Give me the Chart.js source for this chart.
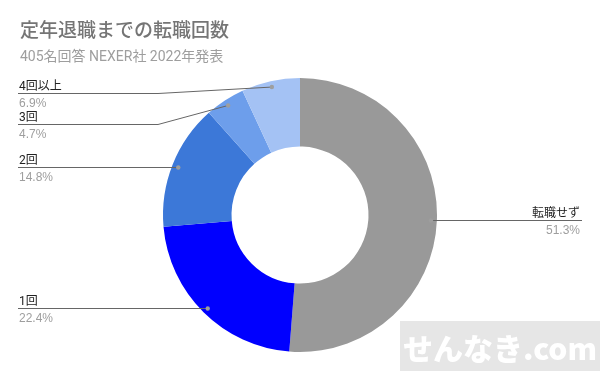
<!DOCTYPE html>
<html>
<head>
<meta charset="utf-8">
<script src="https://cdn.jsdelivr.net/npm/chart.js@4"></script>
<style>
html,body{margin:0;padding:0;background:#fff;}
#wrap{position:relative;width:600px;height:371px;}
</style>
</head>
<body>
<div id="wrap"><canvas id="c" width="600" height="371"></canvas></div>
<script>
const chartTitle = '定年退職までの転職回数';
const chartSubtitle = '405名回答 NEXER社 2022年発表';
const categories = ['転職せず', '1回', '2回', '3回', '4回以上'];
const values = [51.3, 22.4, 14.8, 4.7, 6.9];
const percentLabels = ['51.3%', '22.4%', '14.8%', '4.7%', '6.9%'];
const sliceColors = ['#999999', '#0000ff', '#3c78d8', '#6d9eeb', '#a4c2f4'];
const watermarkText = 'せんなき.com';

const FONT = '"Roboto","Liberation Sans","Noto Sans CJK JP",sans-serif';

const decorPlugin = {
  id: 'decor',
  afterDraw(chart) {
    const ctx = chart.ctx;
    ctx.save();
    // title
    ctx.fillStyle = '#757575';
    ctx.textAlign = 'left';
    ctx.textBaseline = 'alphabetic';
    ctx.font = '500 19px "Roboto","Noto Sans CJK JP",sans-serif';
    ctx.fillText(chartTitle, 20, 37);
    ctx.fillStyle = '#9e9e9e';
    ctx.font = '14px ' + FONT;
    ctx.fillText(chartSubtitle, 20, 61);

    // labels
    const meta = chart.getDatasetMeta(0);
    const left = [], right = [];
    meta.data.forEach((arc, i) => {
      const p = arc.getProps(['x', 'y', 'startAngle', 'endAngle', 'outerRadius'], true);
      const mid = (p.startAngle + p.endAngle) / 2;
      const r = p.outerRadius - 6;
      const item = {
        i, cx: p.x, cy: p.y, R: p.outerRadius,
        dx: p.x + Math.cos(mid) * r,
        dy: p.y + Math.sin(mid) * r
      };
      (Math.cos(mid) >= 0 ? right : left).push(item);
    });
    const minY = chart.chartArea.top + 15;
    const gap = 31;
    const layout = (arr) => {
      arr.sort((a, b) => a.dy - b.dy);
      let prev = -1e9;
      arr.forEach(it => {
        it.ly = Math.max(it.dy, minY, prev + gap);
        prev = it.ly;
      });
    };
    layout(left); layout(right);

    ctx.lineWidth = 1;
    const drawOne = (it, side) => {
      const ly = Math.round(it.ly) + 0.5;
      const straight = Math.abs(it.ly - it.dy) < 1;
      ctx.strokeStyle = '#666666';
      ctx.beginPath();
      const startX = side === 'left' ? 18 : 582;
      const bend = side === 'left' ? it.cx - it.R - 5 : it.cx + it.R + 5;
      ctx.moveTo(startX, ly);
      if (straight) {
        ctx.lineTo(it.dx, ly);
      } else {
        ctx.lineTo(bend, ly);
        ctx.lineTo(it.dx, it.dy);
      }
      ctx.stroke();
      ctx.fillStyle = '#9e9e9e';
      ctx.beginPath();
      ctx.arc(it.dx, straight ? ly : it.dy, 2.2, 0, Math.PI * 2);
      ctx.fill();

      ctx.textAlign = side === 'left' ? 'left' : 'right';
      const tx = side === 'left' ? 19 : 580;
      ctx.fillStyle = '#222222';
      ctx.font = '12px ' + FONT;
      ctx.fillText(categories[it.i], tx, ly - 4);
      ctx.fillStyle = '#9e9e9e';
      ctx.font = '12px "Liberation Sans","Noto Sans CJK JP",sans-serif';
      ctx.fillText(percentLabels[it.i], tx, ly + 13);
    };
    left.forEach(it => drawOne(it, 'left'));
    right.forEach(it => drawOne(it, 'right'));

    // watermark
    ctx.fillStyle = '#e6e6e6';
    ctx.fillRect(400, 321, 200, 50);
    ctx.fillStyle = '#ffffff';
    ctx.font = '900 30px "Noto Sans CJK JP","Roboto",sans-serif';
    ctx.textAlign = 'left';
    ctx.textBaseline = 'middle';
    ctx.fillText(watermarkText, 403, 349);
    ctx.restore();
  }
};

new Chart(document.getElementById('c'), {
  type: 'doughnut',
  data: {
    labels: categories,
    datasets: [{
      data: values,
      backgroundColor: sliceColors,
      borderWidth: 0
    }]
  },
  options: {
    responsive: false,
    devicePixelRatio: 1,
    animation: false,
    cutout: '50%',
    layout: { padding: { top: 78, bottom: 19, left: 0, right: 0 } },
    plugins: {
      legend: { display: false },
      tooltip: { enabled: false },
      title: { display: false }
    }
  },
  plugins: [decorPlugin]
});
</script>
</body>
</html>
